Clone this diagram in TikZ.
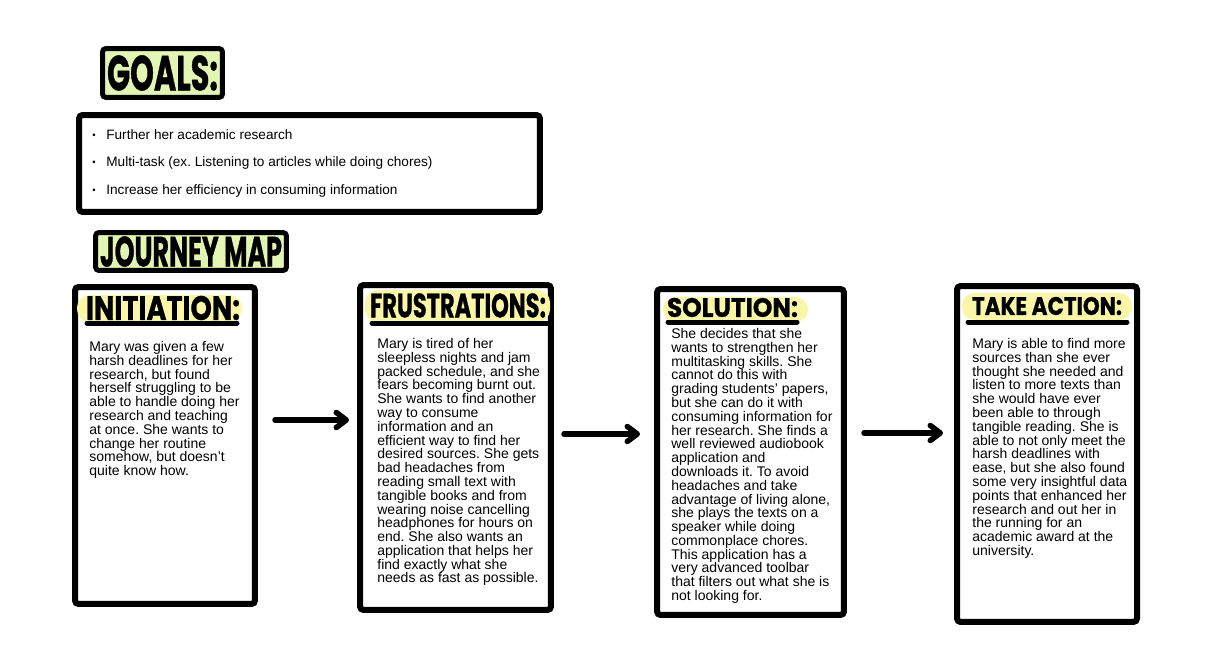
\documentclass[tikz,border=0pt]{standalone}
\usepackage{fontspec}
\setmainfont{Liberation Sans}
\newfontfamily\titlefont{Poppins}[BoldFeatures={FakeBold=1}]
\usepackage{graphicx}
\usetikzlibrary{arrows.meta}
\frenchspacing
\definecolor{titlegreen}{HTML}{E3F5B3}
\definecolor{hlyellow}{HTML}{FAF6A8}
\tikzstyle{titlebox} = [draw, fill=titlegreen, line width=0.1cm,
    rounded corners=2pt, inner sep=0pt]
\tikzstyle{card} = [draw, line width=0.12cm, rounded corners=2pt, inner sep=0pt]
\tikzstyle{cardtext} = [anchor=north west, align=left, inner sep=0pt,
    font=\fontsize{7.97}{7.85}\selectfont]
\tikzstyle{goaltext} = [anchor=north west, align=left, inner sep=0pt,
    font=\fontsize{7.75}{15.65}\selectfont]
\tikzstyle{uline} = [line width=0.1cm, line cap=round]
\tikzstyle{hl} = [fill=hlyellow, rounded corners=0.25cm]
\tikzstyle{flow} = [line width=0.11cm, line cap=round, ->]
\tikzset{>={Straight Barb[length=0.2cm,width=0.3cm,line cap=round,line join=round]}}
\newcommand{\ttl}[3]{\resizebox{#1cm}{#2cm}{\titlefont\bfseries #3}}
\newcommand{\dotitem}{\makebox[0.28cm][l]{\raisebox{0.08em}{\scalebox{0.7}{\textbullet}}}}

\begin{document}
\begin{tikzpicture}[x=0.02cm, y=-0.02cm]
    \useasboundingbox (0,0) rectangle (1219,658);
    %goals
    \node[titlebox, minimum width=2.4cm, minimum height=0.98cm] (goals) at (162.5,73)
        {\ttl{2.22}{0.70}{GOALS:}};
    \node[card, minimum width=9.22cm, minimum height=1.94cm] (goallist) at (309.5,163.5) {};
    \node[goaltext] (goaltxt) at (92,129)
        {\dotitem Further her academic research\\
         \dotitem Multi-task (ex. Listening to articles while doing chores)\\
         \dotitem Increase her efficiency in consuming information};
    \node[titlebox, minimum width=3.82cm, minimum height=0.76cm] (journey) at (191,251.5)
        {\ttl{3.64}{0.60}{JOURNEY MAP}};
    %cards
    \node[card, minimum width=3.6cm, minimum height=6.34cm] (init) at (165,445.5) {};
    \node[card, minimum width=3.82cm, minimum height=6.5cm] (frus) at (455.5,447.5) {};
    \node[card, minimum width=3.74cm, minimum height=6.52cm] (sol) at (750.5,452) {};
    \node[card, minimum width=3.6cm, minimum height=6.72cm] (act) at (1047,454) {};
    %card titles
    \fill[hl] (77,295) rectangle (242,322);
    \node (initttl) at (163,308) {\ttl{3.08}{0.48}{INITIATION:}};
    \draw[uline] (87,323) -- (237,323);
    \fill[hl] (365,290) rectangle (550,322);
    \node (frusttl) at (458,305.5) {\ttl{3.52}{0.48}{FRUSTRATIONS:}};
    \draw[uline] (372,323) -- (548,323);
    \fill[hl] (663,297) rectangle (808,322);
    \node (solttl) at (732.5,307.5) {\ttl{2.62}{0.38}{SOLUTION:}};
    \draw[uline] (668,322) -- (797,322);
    \fill[hl] (962,293) rectangle (1132,320);
    \node (actttl) at (1047,306) {\ttl{3.0}{0.36}{TAKE ACTION:}};
    \draw[uline] (968,322) -- (1127,322);
    %card texts
    \node[cardtext] (inittxt) at (89,341)
        {Mary was given a few\\harsh deadlines for her\\research, but found\\
         herself struggling to be\\able to handle doing her\\research and teaching\\
         at once. She wants to\\change her routine\\somehow, but doesn’t\\
         quite know how.};
    \node[cardtext] (frustxt) at (377,338)
        {Mary is tired of her\\sleepless nights and jam\\packed schedule, and she\\
         fears becoming burnt out.\\She wants to find another\\way to consume\\
         information and an\\efficient way to find her\\desired sources. She gets\\
         bad headaches from\\reading small text with\\tangible books and from\\
         wearing noise cancelling\\headphones for hours on\\end. She also wants an\\
         application that helps her\\find exactly what she\\needs as fast as possible.};
    \node[cardtext] (soltxt) at (671,328)
        {She decides that she\\wants to strengthen her\\multitasking skills. She\\
         cannot do this with\\grading students’ papers,\\but she can do it with\\
         consuming information for\\her research. She finds a\\well reviewed audiobook\\
         application and\\downloads it. To avoid\\headaches and take\\
         advantage of living alone,\\she plays the texts on a\\speaker while doing\\
         commonplace chores.\\This application has a\\very advanced toolbar\\
         that filters out what she is\\not looking for.};
    \node[cardtext] (acttxt) at (972,338)
        {Mary is able to find more\\sources than she ever\\thought she needed and\\
         listen to more texts than\\she would have ever\\been able to through\\
         tangible reading. She is\\able to not only meet the\\harsh deadlines with\\
         ease, but she also found\\some very insightful data\\points that enhanced her\\
         research and out her in\\the running for an\\academic award at the\\
         university.};
    %arrows
    \coordinate (a1s) at (275,420);
    \coordinate (a1e) at (349,420);
    \coordinate (a2s) at (564,434);
    \coordinate (a2e) at (640,434);
    \coordinate (a3s) at (864,433);
    \coordinate (a3e) at (943,433);
    \draw[flow] (a1s) -- (a1e);
    \draw[flow] (a2s) -- (a2e);
    \draw[flow] (a3s) -- (a3e);
\end{tikzpicture}
\end{document}
